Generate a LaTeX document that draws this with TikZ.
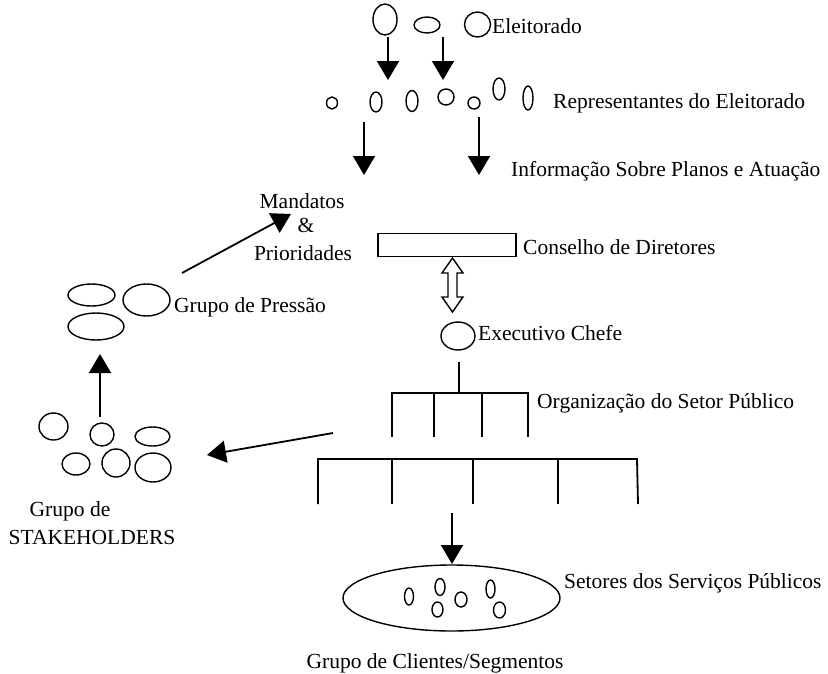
\documentclass[tikz,border=0pt]{standalone}
\usepackage{fontspec}
\setmainfont{Liberation Serif}
\usetikzlibrary{arrows.meta,shapes.geometric}

\begin{document}
\begin{tikzpicture}[x=1pt,y=-1pt,
  ell/.style={draw, ellipse, line width=1.4pt, inner sep=0pt},
  conn/.style={line width=1.8pt, -{Triangle[width=22pt,length=19pt]}},
  tree/.style={line width=1.8pt},
  lbl/.style={font=\fontsize{21.5}{25}\selectfont, inner sep=0pt},
]
\useasboundingbox (0,0) rectangle (828,673);

% --- electorate ---
\node[ell, minimum width=24pt, minimum height=31pt] (el1) at (385,19.5) {};
\node[ell, minimum width=26pt, minimum height=16pt] (el2) at (427,25) {};
\node[ell, minimum width=26pt, minimum height=25pt] (el3) at (477.5,24.5) {};
\node[lbl, anchor=base west] (tEl) at (492,33) {Eleitorado};

\coordinate (a1s) at (388,37);  \coordinate (a1e) at (388,80);
\coordinate (a2s) at (443,37);  \coordinate (a2e) at (443,80);
\draw[conn] (a1s) -- (a1e);
\draw[conn] (a2s) -- (a2e);

% --- representatives ---
\node[ell, minimum width=11pt, minimum height=12pt] (r1) at (332,103) {};
\node[ell, minimum width=12pt, minimum height=20pt] (r2) at (376,102) {};
\node[ell, minimum width=12pt, minimum height=21pt] (r3) at (412,101) {};
\node[ell, minimum width=16pt, minimum height=16pt] (r4) at (446,97) {};
\node[ell, minimum width=12pt, minimum height=12pt] (r5) at (474,103) {};
\node[ell, minimum width=12pt, minimum height=22pt] (r6) at (499,89) {};
\node[ell, minimum width=10pt, minimum height=24pt] (r7) at (528,98) {};
\node[lbl, anchor=base west] (tRep) at (553,108) {Representantes do Eleitorado};

\coordinate (a3s) at (364,122);  \coordinate (a3e) at (364,175);
\coordinate (a4s) at (479,117);  \coordinate (a4e) at (479,175);
\draw[conn] (a3s) -- (a3e);
\draw[conn] (a4s) -- (a4e);
\node[lbl, anchor=base west] (tInf) at (511,176) {Informação Sobre Planos e Atuação};

% --- mandates ---
\node[lbl, anchor=base] (tMan) at (302,208) {Mandatos};
\node[lbl, anchor=base] (tAmp) at (306,232) {\&};
\node[lbl, anchor=base] (tPri) at (303,260) {Prioridades};

% --- board and chief executive ---
\node[draw, line width=1.8pt, minimum width=138pt, minimum height=23pt, inner sep=0pt] (board) at (447,245) {};
\node[lbl, anchor=base west] (tBoard) at (523,254) {Conselho de Diretores};

\coordinate (dt) at (452.5,258);
\coordinate (db) at (452.5,312);
\draw[line width=1.4pt, fill=white, line join=miter]
  (dt) -- ++(10.5,15) -- ++(-6,0) -- ++(0,24) -- ++(6,0) -- (db)
  -- ++(-10.5,-15) -- ++(6,0) -- ++(0,-24) -- ++(-6,0) -- cycle;

\node[ell, minimum width=34pt, minimum height=28pt] (exec) at (458,336) {};
\node[lbl, anchor=base west] (tExec) at (478,340) {Executivo Chefe};

% --- public sector organisation ---
\coordinate (stem) at (459,362);
\coordinate (bar1) at (459,393);
\draw[tree] (stem) -- (bar1);
\draw[tree] (392,437) -- (392,393) -- (529,393);
\draw[tree] (528,393) -- (528,437);
\draw[tree] (434,393) -- (434,437);
\draw[tree] (482,393) -- (482,437);
\node[lbl, anchor=base west] (tOrg) at (537,408) {Organização do Setor Público};

\draw[tree] (318,504) -- (318,459) -- (637,459) -- (638,504);
\draw[tree] (392,459) -- (392,504);
\draw[tree] (473,459) -- (473,504);
\draw[tree] (558,459) -- (558,504);

% --- public services ---
\coordinate (a5s) at (452,513);  \coordinate (a5e) at (452,564);
\draw[conn] (a5s) -- (a5e);
\node[ell, minimum width=217pt, minimum height=66pt] (serv) at (451.5,598) {};
\node[ell, minimum width=9pt, minimum height=17pt] (c1) at (409,596.5) {};
\node[ell, minimum width=10pt, minimum height=17pt] (c2) at (440,587) {};
\node[ell, minimum width=11pt, minimum height=15pt] (c3) at (437.5,609.5) {};
\node[ell, minimum width=12pt, minimum height=15pt] (c4) at (461,599.5) {};
\node[ell, minimum width=9pt, minimum height=18pt] (c5) at (490.5,589) {};
\node[ell, minimum width=12pt, minimum height=16pt] (c6) at (499.5,610) {};
\node[lbl, anchor=base west] (tServ) at (564,588) {Setores dos Serviços Públicos};
\node[lbl, anchor=base] (tCli) at (435,668) {Grupo de Clientes/Segmentos};

% --- stakeholders ---
\node[ell, minimum width=29pt, minimum height=27pt] (s1) at (53.5,426.5) {};
\node[ell, minimum width=24pt, minimum height=23pt] (s2) at (102,434.5) {};
\node[ell, minimum width=35pt, minimum height=19pt] (s3) at (152.5,436.5) {};
\node[ell, minimum width=28pt, minimum height=22pt] (s4) at (76,464) {};
\node[ell, minimum width=28pt, minimum height=28pt] (s5) at (116,463) {};
\node[ell, minimum width=36pt, minimum height=29pt] (s6) at (153,467.5) {};
\node[lbl, anchor=base] (tSt1) at (70,516) {Grupo de};
\node[lbl, anchor=base] (tSt2) at (92,544) {STAKEHOLDERS};

\coordinate (a6s) at (333,433);  \coordinate (a6e) at (207,455);
\draw[conn] (a6s) -- (a6e);

% --- pressure group ---
\node[ell, minimum width=47pt, minimum height=22pt] (p1) at (91.5,295) {};
\node[ell, minimum width=47pt, minimum height=32pt] (p2) at (146.5,300) {};
\node[ell, minimum width=56pt, minimum height=27pt] (p3) at (96,326.5) {};
\node[lbl, anchor=base west] (tPres) at (174,312) {Grupo de Pressão};

\coordinate (a7s) at (100,417);  \coordinate (a7e) at (100,354);
\draw[conn] (a7s) -- (a7e);

\coordinate (a8s) at (182,273);  \coordinate (a8e) at (291,214);
\draw[conn] (a8s) -- (a8e);

\end{tikzpicture}
\end{document}
